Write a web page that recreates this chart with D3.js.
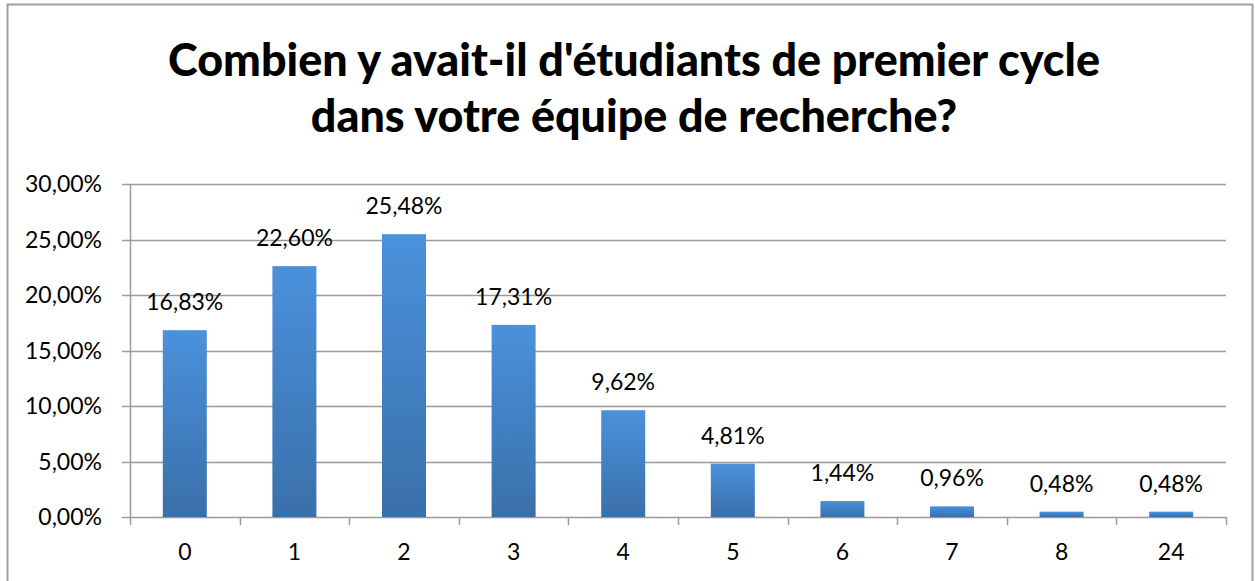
<!DOCTYPE html>
<html>
<head>
<meta charset="utf-8">
<script src="https://cdn.jsdelivr.net/npm/d3@7"></script>
<style>
  body { margin: 0; background: #fff; }
  svg { display: block; }
  text { font-family: Lato, "Open Sans", sans-serif; fill: #000; }
</style>
</head>
<body>
<svg id="chart" width="1255" height="581"></svg>
<script>
const categories = ['0', '1', '2', '3', '4', '5', '6', '7', '8', '24'];
const values = [16.83, 22.60, 25.48, 17.31, 9.62, 4.81, 1.44, 0.96, 0.48, 0.48];
const yTicks = [0, 5, 10, 15, 20, 25, 30];
const titleLines = ["Combien y avait-il d'étudiants de premier cycle", 'dans votre équipe de recherche?'];

const svg = d3.select('#chart');
const W = 1255, H = 581;
const margin = { left: 130, right: 29, top: 184, bottom: 64 };
const fmt = v => v.toFixed(2).replace('.', ',') + '%';
const labelSize = 23;

// outer frame
svg.append('rect')
  .attr('x', 7.5).attr('y', 4.5)
  .attr('width', 1245).attr('height', 600)
  .attr('fill', '#fff')
  .attr('stroke', '#a0a0a0').attr('stroke-width', 2);

// gradient for bars
const grad = svg.append('defs').append('linearGradient')
  .attr('id', 'barGrad').attr('x1', 0).attr('y1', 0).attr('x2', 0).attr('y2', 1);
grad.append('stop').attr('offset', '0%').attr('stop-color', '#4a91dc');
grad.append('stop').attr('offset', '100%').attr('stop-color', '#3a70aa');

// title
const tl = svg.append('g').selectAll('text').data(titleLines).enter().append('text')
  .attr('x', 634)
  .attr('y', (d, i) => 76 + i * 56)
  .attr('text-anchor', 'middle')
  .attr('font-weight', 900)
  .attr('font-size', 44)
  .text(d => d);
// fit first line to width seen in the picture
const w0 = tl.node().getComputedTextLength();
tl.attr('font-size', 44 * 932 / w0);

const xb = d3.scaleBand().domain(categories).range([margin.left, W - margin.right]);

const y = d3.scaleLinear()
  .domain([0, 30])
  .range([H - margin.bottom, margin.top]);

// gridlines
svg.append('g').selectAll('line').data(yTicks).enter().append('line')
  .attr('x1', margin.left - 8).attr('x2', W - margin.right)
  .attr('y1', d => Math.round(y(d)) + 0.5).attr('y2', d => Math.round(y(d)) + 0.5)
  .attr('stroke', '#9a9a9a').attr('stroke-width', 1.5);

// y axis line
svg.append('line')
  .attr('x1', margin.left + 0.5).attr('x2', margin.left + 0.5)
  .attr('y1', y(30)).attr('y2', y(0))
  .attr('stroke', '#9a9a9a').attr('stroke-width', 1.5);

// x axis ticks between categories
const bounds = categories.map(c => xb(c)).concat([W - margin.right]);
svg.append('g').selectAll('line').data(bounds).enter().append('line')
  .attr('x1', d => Math.round(d) + 0.5).attr('x2', d => Math.round(d) + 0.5)
  .attr('y1', y(0)).attr('y2', y(0) + 8)
  .attr('stroke', '#9a9a9a').attr('stroke-width', 1.5);

// y labels
svg.append('g').selectAll('text').data(yTicks).enter().append('text')
  .attr('x', 102).attr('y', d => y(d) + 8)
  .attr('text-anchor', 'end')
  .attr('font-size', labelSize)
  .text(d => fmt(d));

// x labels
svg.append('g').selectAll('text').data(categories).enter().append('text')
  .attr('x', d => xb(d) + xb.bandwidth() / 2)
  .attr('y', y(0) + 43)
  .attr('text-anchor', 'middle')
  .attr('font-size', labelSize)
  .text(d => d);

// bars
svg.append('g').selectAll('rect').data(values).enter().append('rect')
  .attr('x', (d, i) => xb(categories[i]) + xb.bandwidth() / 2 - 22)
  .attr('width', 44)
  .attr('y', d => y(d))
  .attr('height', d => y(0) - y(d))
  .attr('fill', 'url(#barGrad)');

// data labels
svg.append('g').selectAll('text').data(values).enter().append('text')
  .attr('x', (d, i) => xb(categories[i]) + xb.bandwidth() / 2)
  .attr('y', d => y(d) - 20)
  .attr('text-anchor', 'middle')
  .attr('font-size', labelSize)
  .text(d => fmt(d));
</script>
</body>
</html>
